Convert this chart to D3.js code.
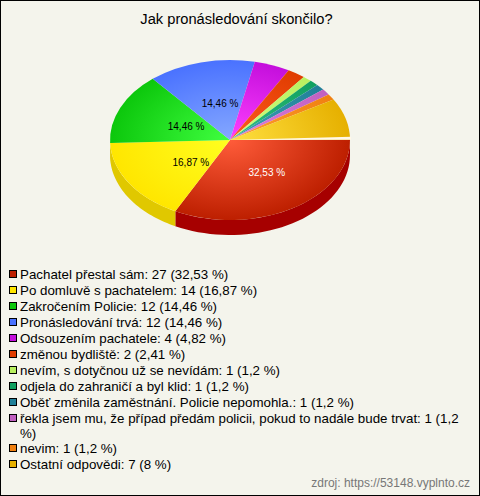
<!DOCTYPE html>
<html><head><meta charset="utf-8">
<script src="https://cdn.jsdelivr.net/npm/d3@7"></script>
<style>html,body{margin:0;padding:0;background:#f4f4ec}svg{display:block}text{font-family:"Liberation Sans",Arial,sans-serif}</style>
</head><body><div id="c"></div><script>
const title = "Jak pronásledování skončilo?";
const source = "zdroj: https://53148.vyplnto.cz";
const categories = ["Pachatel přestal sám","Po domluvě s pachatelem","Zakročením Policie","Pronásledování trvá","Odsouzením pachatele","změnou bydliště","nevím, s dotyčnou už se nevídám","odjela do zahraničí a byl klid","Oběť změnila zaměstnání. Policie nepomohla.","řekla jsem mu, že případ předám policii, pokud to nadále bude trvat","nevim","Ostatní odpovědi"];
const counts = [27,14,12,12,4,2,1,1,1,1,1,7];
const shares = ["32,53","16,87","14,46","14,46","4,82","2,41","1,2","1,2","1,2","1,2","1,2","8"];
const edgeColors = ["#bd1f00","#ffe600","#0cc70c","#4a72ff","#c40fdc","#e03c00","#b8f060","#10a060","#208098","#c060c0","#f08010","#e6b000"];
const lightColors = ["#ff5c3a","#ffff20","#40ff40","#85a8ff","#ff40ff","#ff5a20","#d0ff80","#30c080","#40a0b8","#e080e0","#ffa030","#ffe040"];
const sideColors = ["#a60000","#e0c800"];
const W=480,H=496,cx=230,cy=140,rx=120,ry=80,depth=15;
const svg=d3.select("#c").append("svg").attr("width",W).attr("height",H);
svg.append("rect").attr("x",0.5).attr("y",0.5).attr("width",W-1).attr("height",H-1).attr("fill","#f4f4ec").attr("stroke","#000");
svg.append("text").attr("x",236.5).attr("y",24).attr("text-anchor","middle").attr("font-size",14.67).attr("fill","#000").text(title);
const defs=svg.append("defs");
categories.forEach((c,i)=>{
  const g=defs.append("radialGradient").attr("id","g"+i).attr("gradientUnits","userSpaceOnUse").attr("cx",0).attr("cy",0).attr("r",1);
  g.append("stop").attr("offset",0).attr("stop-color",lightColors[i]);
  g.append("stop").attr("offset",1).attr("stop-color",edgeColors[i]);
});
const pie=d3.pie().sort(null).value(d=>d).startAngle(Math.PI/2).endAngle(Math.PI/2+2*Math.PI);
const arcs=pie(counts);
const arcGen=d3.arc().innerRadius(0).outerRadius(1);
const chart=svg.append("g");
const px=a=>cx+rx*Math.sin(a), py=a=>cy-ry*Math.cos(a);
// side wall of the front slices
sideColors.forEach((col,i)=>{
  const a=arcs[i];
  const a0=a.startAngle,a1=Math.min(a.endAngle,Math.PI*1.5);
  const pts=d3.range(0,41).map(k=>a0+(a1-a0)*k/40);
  const top=pts.map(t=>[px(t),py(t)]);
  const bot=pts.slice().reverse().map(t=>[px(t),py(t)+depth]);
  chart.append("path").attr("d",d3.line()(top.concat(bot))+"Z").attr("fill",col);
});
const face=chart.append("g").attr("transform",`translate(${cx},${cy}) scale(${rx},${ry})`);
face.selectAll("path").data(arcs).join("path").attr("d",arcGen).attr("fill",(d,i)=>`url(#g${i})`);
// pale gap above the first slice
svg.append("path").attr("d",d3.line()([[cx,cy],[cx+rx+1,cy-3.3],[cx+rx+1,cy-0.2]])+"Z").attr("fill","#fff8e8");
// value labels on the four largest slices
const kx=[.588,.387,.40,.34], ky=[.47,.51,.43,.477];
arcs.slice(0,kx.length).forEach((a,i)=>{
  const m=(a.startAngle+a.endAngle)/2;
  svg.append("text").attr("x",cx+rx*kx[i]*Math.sin(m)).attr("y",cy-ry*ky[i]*Math.cos(m)+4)
    .attr("text-anchor","middle").attr("font-size",10).attr("fill",i==0?"#fff":"#000").text(shares[i]+" %");
});
// legend
const legend=svg.append("g");
const wrapAt="1 (1,2";
let y=270;
categories.forEach((c,i)=>{
  let s=`${c}: ${counts[i]} (${shares[i]} %)`;
  legend.append("rect").attr("x",9.5).attr("y",y+.5).attr("width",7).attr("height",7).attr("fill",edgeColors[i]).attr("stroke","#000");
  const k=s.length>70?s.indexOf(wrapAt)+wrapAt.length:-1;
  if(k>0){
    legend.append("text").attr("x",20).attr("y",y+9).attr("font-size",13.33).attr("fill","#000").text(s.slice(0,k));
    legend.append("text").attr("x",20).attr("y",y+24).attr("font-size",13.33).attr("fill","#000").text(s.slice(k+1));
    y+=30;
  } else {
    legend.append("text").attr("x",20).attr("y",y+9).attr("font-size",13.33).attr("fill","#000").text(s);
    y+=16;
  }
});
svg.append("text").attr("x",470).attr("y",487).attr("text-anchor","end").attr("font-size",12).attr("fill","#777").text(source);
</script></body></html>
